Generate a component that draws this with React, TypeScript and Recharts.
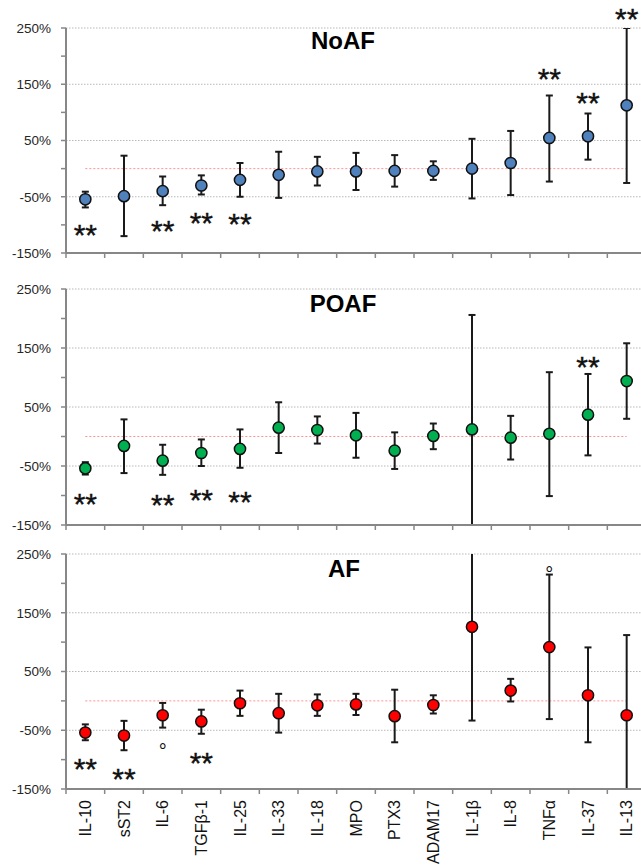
import React from 'react';
import { ComposedChart, Scatter, Line, XAxis, YAxis, ReferenceLine, ReferenceDot } from 'recharts';

const categories = ['IL-10', 'sST2', 'IL-6', 'TGFβ-1', 'IL-25', 'IL-33', 'IL-18', 'MPO', 'PTX3', 'ADAM17', 'IL-1β', 'IL-8', 'TNFα', 'IL-37', 'IL-13'];

const noafMean = [-54.5, -49, -40, -30, -20, -11, -5, -5, -4, -4, 0, 10, 54.5, 57.5, 112.5];
const noafLow = [-69, -120, -65, -46, -50, -52, -30, -38, -32, -20, -53, -47, -23, 16, -25.5];
const noafHigh = [-41, 23, -14, -12, 10, 30, 21, 28, 24, 13, 53, 67, 130, 98, 250];

const poafMean = [-54, -16, -41, -28, -21, 15, 11, 2, -24, 1, 12, -2, 4.5, 37, 94];
const poafLow = [-64.5, -62, -65, -50, -53, -28, -12, -36, -55, -21.5, -170, -39, -101, -32, 30];
const poafHigh = [-43.5, 29, -14, -5, 12, 58, 34, 40, 7, 22, 206, 35, 109, 106, 158];

const afMean = [-54, -59, -24.5, -35, -4, -21, -7.5, -6, -26, -7, 126, 17.5, 91.5, 9.5, -24.5];
const afLow = [-67, -84, -45.5, -56, -25.5, -54, -25.5, -24, -70.5, -21.5, -33.5, -1, -31, -70.5, -170];
const afHigh = [-40, -34, -3.5, -15, 17.5, 12, 11, 12, 19, 9.5, 280, 37.5, 215, 91, 112];

const noafMarks = [
  { cat: 'IL-10', y: -112, t: '**' },
  { cat: 'IL-6', y: -105, t: '**' },
  { cat: 'TGFβ-1', y: -91, t: '**' },
  { cat: 'IL-25', y: -92, t: '**' },
  { cat: 'TNFα', y: 165, t: '**' },
  { cat: 'IL-37', y: 123, t: '**' },
  { cat: 'IL-13', y: 273, t: '**' },
];
const poafMarks = [
  { cat: 'IL-10', y: -108, t: '**' },
  { cat: 'IL-6', y: -111, t: '**' },
  { cat: 'TGFβ-1', y: -101, t: '**' },
  { cat: 'IL-25', y: -105, t: '**' },
  { cat: 'IL-37', y: 123, t: '**' },
];
const afMarks = [
  { cat: 'IL-10', y: -110, t: '**' },
  { cat: 'sST2', y: -127, t: '**' },
  { cat: 'IL-6', y: -78, t: '°' },
  { cat: 'TGFβ-1', y: -99, t: '**' },
  { cat: 'TNFα', y: 224, t: '°' },
];

const yTicks = [-150, -100, -50, 0, 50, 100, 150, 200, 250];
const yLabelled = [-150, -50, 50, 150, 250];
const gridValues = [250, 150, 50, -50];
const panelTitles = ['NoAF', 'POAF', 'AF'];

const xTicks: number[] = [];
categories.forEach((_, i) => { xTicks.push(i); xTicks.push(i + 0.5); });
xTicks.push(categories.length);

const AXIS = '#878787';
const BAR = '#1a1a1a';

function makeTick(showLabels: boolean) {
  return (props: any) => {
    const { x, y, payload } = props;
    const v = payload.value;
    if (Number.isInteger(v)) {
      return <line x1={x} y1={y} x2={x} y2={y + 5} stroke={AXIS} strokeWidth={1.5} />;
    }
    if (!showLabels) return <g />;
    const name = categories[Math.floor(v)];
    const ty = y + 11;
    return (
      <text x={x} y={ty} transform={`rotate(-90 ${x} ${ty})`} textAnchor="end" dy="0.36em" fontSize={16} fill="#111">
        {name}
      </text>
    );
  };
}

function markShape(t: string) {
  return (p: any) => {
    if (t === '°') {
      return <text x={p.cx} y={p.cy + 11.5} textAnchor="middle" fontSize={20} fill="#111">{t}</text>;
    }
    return <text x={p.cx} y={p.cy + 13.5} textAnchor="middle" fontSize={30} fill="#111" stroke="#111" strokeWidth={0.4}>{t}</text>;
  };
}

type PanelProps = {
  mean: number[]; low: number[]; high: number[]; color: string;
  marks: { cat: string; y: number; t: string }[];
  height: number; marginTop: number; xHeight: number; showLabels: boolean;
};

function Panel({ mean, low, high, color, marks, height, marginTop, xHeight, showLabels }: PanelProps) {
  const dots = categories.map((c, i) => ({ x: i + 0.5, y: mean[i] }));
  const caps = categories.flatMap((c, i) => [{ x: i + 0.5, y: low[i] }, { x: i + 0.5, y: high[i] }]);
  return (
    <ComposedChart width={660} height={height} margin={{ top: marginTop, right: 14, bottom: 0, left: 0 }}>
      <XAxis
        type="number" dataKey="x" domain={[0, categories.length]} ticks={xTicks} interval={0}
        allowDataOverflow height={xHeight} tickSize={0} tickMargin={0} tickLine={false}
        axisLine={{ stroke: AXIS, strokeWidth: 2 }} tick={makeTick(showLabels)}
      />
      <YAxis
        type="number" domain={[-150, 250]} ticks={yTicks} interval={0} allowDataOverflow width={66}
        tickSize={5} tickMargin={10}
        tickFormatter={(v: number) => (yLabelled.includes(v) ? `${v}%` : '')}
        tick={{ fontSize: 13.5, fill: '#262626' }}
        tickLine={{ stroke: AXIS, strokeWidth: 1.5 }}
        axisLine={{ stroke: AXIS, strokeWidth: 2 }}
      />
      {gridValues.map((g) => (
        <ReferenceLine key={g} y={g} stroke="#b8b8b8" strokeDasharray="1.5 1.5" strokeWidth={1} />
      ))}
      <ReferenceLine
        segment={[{ x: 0.5, y: 0 }, { x: categories.length - 0.5, y: 0 }]}
        stroke="#ff9090" strokeDasharray="2 2" strokeWidth={1}
      />
      {categories.map((c, i) => (
        <Line
          key={c}
          data={[{ x: i + 0.5, y: low[i] }, { x: i + 0.5, y: high[i] }]}
          dataKey="y" stroke={BAR} strokeWidth={2} dot={false} activeDot={false}
          isAnimationActive={false} legendType="none"
        />
      ))}
      <Scatter
        data={caps} dataKey="y" isAnimationActive={false}
        shape={(p: any) => <line x1={p.cx - 3.5} x2={p.cx + 3.5} y1={p.cy} y2={p.cy} stroke={BAR} strokeWidth={2} />}
      />
      <Scatter
        data={dots} dataKey="y" isAnimationActive={false}
        shape={(p: any) => <circle cx={p.cx} cy={p.cy} r={5.6} fill={color} stroke="#111" strokeWidth={1.5} />}
      />
      {marks.map((m, i) => (
        <ReferenceDot
          key={i} x={categories.indexOf(m.cat) + 0.5} y={m.y} r={0} ifOverflow="visible"
          shape={markShape(m.t)}
        />
      ))}
    </ComposedChart>
  );
}

export default function App() {
  return (
    <div style={{ position: 'absolute', left: 0, top: 0, width: 641, height: 865, overflow: 'hidden', background: '#fff', fontFamily: '"Liberation Sans", Arial, sans-serif' }}>
      <div style={{ position: 'absolute', left: 0, top: 0 }}>
        <Panel mean={noafMean} low={noafLow} high={noafHigh} color="#4F81BD" marks={noafMarks} height={270} marginTop={28} xHeight={17} showLabels={false} />
      </div>
      <div style={{ position: 'absolute', left: 0, top: 270 }}>
        <Panel mean={poafMean} low={poafLow} high={poafHigh} color="#00B050" marks={poafMarks} height={272} marginTop={19} xHeight={17} showLabels={false} />
      </div>
      <div style={{ position: 'absolute', left: 0, top: 542 }}>
        <Panel mean={afMean} low={afLow} high={afHigh} color="#FF0000" marks={afMarks} height={323} marginTop={12} xHeight={76} showLabels={true} />
      </div>
      <svg width={641} height={865} style={{ position: 'absolute', left: 0, top: 0, pointerEvents: 'none' }}>
        <text x={343} y={49} textAnchor="middle" fontSize={24} fontWeight="bold" fill="#000">{panelTitles[0]}</text>
        <text x={343} y={312} textAnchor="middle" fontSize={24} fontWeight="bold" fill="#000">{panelTitles[1]}</text>
        <text x={344} y={577} textAnchor="middle" fontSize={24} fontWeight="bold" fill="#000">{panelTitles[2]}</text>
      </svg>
    </div>
  );
}
